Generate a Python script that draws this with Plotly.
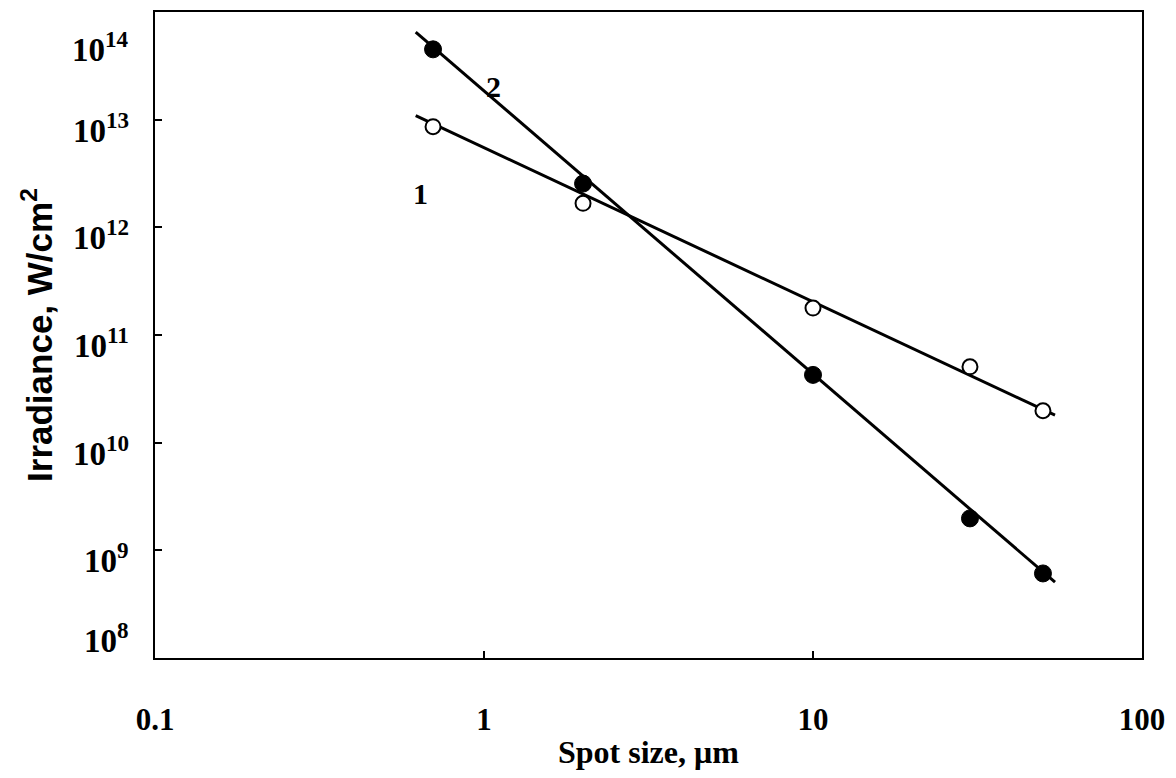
import math
import plotly.graph_objects as go

# ---- data ----
spot_size = [0.7, 2, 10, 30, 50]                      # µm
irr_1 = [8.6e12, 1.67e12, 1.78e11, 5.06e10, 1.98e10]  # open circles (curve 1)
irr_2 = [4.5e13, 2.55e12, 4.26e10, 1.98e9, 6.1e8]     # filled circles (curve 2)

fit_x = [0.62, 54.4]
fit_1 = [1.09e13, 1.8e10]
fit_2 = [6.5e13, 5.06e8]

x_ticks = [0.1, 1, 10, 100]
x_tick_text = ["0.1", "1", "10", "100"]
y_exponents = [8, 9, 10, 11, 12, 13, 14]

curve_labels = ["1", "2"]
curve_label_x = [0.64, 1.07]
curve_label_y = [2.07e12, 2.02e13]

SERIF = "Liberation Serif, Times New Roman, serif"
SANS = "Liberation Sans, Arial, sans-serif"

fig = go.Figure()
fig.add_trace(go.Scatter(x=fit_x, y=fit_1, mode="lines",
                         line=dict(color="black", width=3), showlegend=False))
fig.add_trace(go.Scatter(x=fit_x, y=fit_2, mode="lines",
                         line=dict(color="black", width=3), showlegend=False))
fig.add_trace(go.Scatter(x=spot_size, y=irr_1, mode="markers",
                         marker=dict(symbol="circle", size=15, color="white",
                                     line=dict(color="black", width=2)),
                         showlegend=False))
fig.add_trace(go.Scatter(x=spot_size, y=irr_2, mode="markers",
                         marker=dict(symbol="circle", size=17, color="black",
                                     line=dict(color="black", width=1)),
                         showlegend=False))

annotations = []
# annotations on log axes take log10 coordinates
for t, xv, yv in zip(curve_labels, curve_label_x, curve_label_y):
    annotations.append(dict(x=math.log10(xv), y=math.log10(yv), xref="x", yref="y",
                            text="<b>%s</b>" % t, showarrow=False,
                            font=dict(family=SERIF, size=30, color="black")))

# y tick labels (pulled inward at the ends, as in the reference)
shift = {14: -35, 8: 20}
for e in y_exponents:
    annotations.append(dict(x=0, y=e, xref="paper", yref="y",
                            xanchor="right", yanchor="middle", xshift=-24,
                            yshift=shift.get(e, -8),
                            text="<b>10<sup>%d</sup></b>" % e, showarrow=False,
                            font=dict(family=SERIF, size=33, color="black")))

annotations.append(dict(x=-0.1196, y=0.5, xref="paper", yref="paper",
                        text="<b>Irradiance, W/cm<sup>2</sup></b>", textangle=-90,
                        showarrow=False, xanchor="center", yanchor="middle",
                        font=dict(family=SANS, size=35, color="black")))

annotations.append(dict(x=0.5, y=-0.145, xref="paper", yref="paper",
                        text="<b>Spot size, μm</b>", showarrow=False,
                        xanchor="center", yanchor="middle",
                        font=dict(family=SERIF, size=32, color="black")))

# page body has an 8px margin, so the figure is sized and placed to compensate
fig.update_layout(
    width=1168, height=770,
    margin=dict(l=147, r=34, t=2, b=120),
    plot_bgcolor="white", paper_bgcolor="white",
    annotations=annotations,
    xaxis=dict(type="log", range=[-1, 2], tickvals=x_ticks,
               ticktext=["<b>%s</b>" % t for t in x_tick_text],
               ticks="inside", ticklen=7, tickwidth=1.5, tickcolor="black",
               showline=True, linecolor="black", linewidth=2, mirror=True,
               showgrid=False, zeroline=False, ticklabelstandoff=33,
               tickfont=dict(family=SERIF, size=31, color="black")),
    yaxis=dict(type="log", range=[8, 14], tickvals=[10 ** e for e in y_exponents],
               showticklabels=False,
               ticks="inside", ticklen=7, tickwidth=1.5, tickcolor="black",
               showline=True, linecolor="black", linewidth=2, mirror=True,
               showgrid=False, zeroline=False),
)

fig.write_html("out.html")
